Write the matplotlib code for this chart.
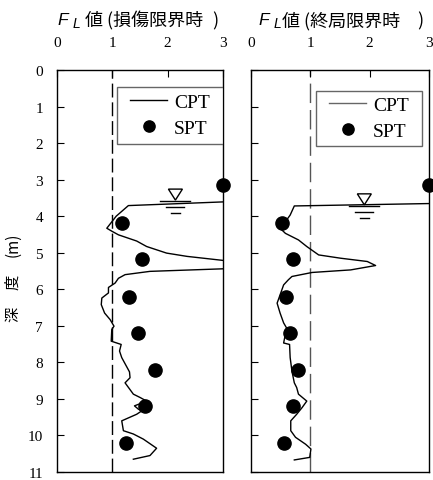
import matplotlib
matplotlib.use("Agg")
import matplotlib.pyplot as plt
import matplotlib.transforms as mtransforms
from matplotlib.patches import Rectangle

plt.rcParams['font.family'] = ['Liberation Serif', 'DejaVu Serif']
CJK = ['Noto Sans CJK JP', 'DejaVu Sans']

# SPT points (same depths for both panels)
spt_depth = [3.15, 4.18, 5.18, 6.2, 7.2, 8.2, 9.2, 10.2]
spt_damage = [3.0, 1.18, 1.54, 1.30, 1.46, 1.77, 1.59, 1.25]
spt_ultimate = [3.0, 0.52, 0.70, 0.59, 0.66, 0.80, 0.71, 0.56]

# CPT profile, damage limit
cpt_damage_fl = [3.5, 1.29, 1.07, 0.90, 0.99, 1.11, 1.44, 1.62, 1.98, 2.35, 3.0,
                 3.6, 3.0, 1.68, 1.23, 1.11, 1.05, 0.93, 0.93, 0.81, 0.80, 0.86,
                 0.96, 1.03, 0.99, 0.98, 1.16, 1.13, 1.17, 1.31, 1.32, 1.23, 1.38,
                 1.50, 1.62, 1.40, 1.47, 1.53, 1.44, 1.17, 1.20, 1.38, 1.56, 1.80,
                 1.68, 1.38]
cpt_damage_z = [3.58, 3.71, 4.0, 4.33, 4.41, 4.51, 4.68, 4.83, 5.01, 5.10, 5.21,
                5.32, 5.44, 5.51, 5.60, 5.70, 5.83, 5.95, 6.10, 6.24, 6.42, 6.65,
                6.83, 7.01, 7.10, 7.42, 7.51, 7.69, 7.87, 8.26, 8.42, 8.56, 8.87,
                8.96, 9.06, 9.19, 9.28, 9.33, 9.42, 9.60, 9.87, 9.96, 10.10, 10.35,
                10.55, 10.65]

# CPT profile, ultimate limit
cpt_ult_fl = [3.5, 0.73, 0.66, 0.58, 0.49, 0.58, 0.80, 0.94, 1.14, 1.51, 1.96,
              2.10, 1.68, 1.03, 0.69, 0.63, 0.55, 0.46, 0.44, 0.49, 0.55, 0.60,
              0.55, 0.65, 0.66, 0.69, 0.73, 0.77, 0.80, 0.94, 0.86, 0.77, 0.67,
              0.67, 0.75, 0.92, 1.01, 0.99, 0.73]
cpt_ult_z = [3.64, 3.72, 3.97, 4.15, 4.33, 4.47, 4.65, 4.83, 5.06, 5.15, 5.24,
             5.35, 5.47, 5.54, 5.65, 5.74, 5.88, 6.29, 6.38, 6.65, 6.92, 7.06,
             7.47, 7.51, 7.87, 8.24, 8.56, 8.69, 8.87, 9.06, 9.24, 9.42, 9.60,
             9.87, 10.05, 10.24, 10.37, 10.60, 10.67]

title_words = ['値 (損傷限界時', '値 (終局限界時']
water = [(2.14, 3.56), (1.91, 3.69)]

W, H = 433, 481
fig = plt.figure(figsize=(W/100, H/100), dpi=100)
ax1 = fig.add_axes([57/W, 1-473/H, 166/W, 402/H])
ax2 = fig.add_axes([251/W, 1-473/H, 178/W, 402/H])


def ftext(x, y, s, **kw):
    # place text by pixel position measured from the top-left corner
    fig.text(x/W, 1-y/H, s, **kw)


def water_mark(ax, x, z):
    # groundwater symbol drawn in inches around the apex point
    tr = fig.dpi_scale_trans + mtransforms.ScaledTranslation(x, z, ax.transData)
    p = 1/100
    ax.fill([-7*p, 7*p, 0], [11*p, 11*p, 0], facecolor='white', edgecolor='black',
            lw=1.0, transform=tr, clip_on=False, zorder=4)
    for dy, hw in [(-1, 15), (-7, 9), (-13, 4.5)]:
        ax.plot([-hw*p, hw*p], [dy*p, dy*p], color='black', lw=1.0,
                transform=tr, clip_on=False, zorder=4)


panels = [
    (ax1, cpt_damage_fl, cpt_damage_z, spt_damage, 'black', (10, 3.5),
     (0.361, 0.817, 0.639, 0.141), 'black'),
    (ax2, cpt_ult_fl, cpt_ult_z, spt_ultimate, '#555555', (14, 5),
     (0.365, 0.812, 0.596, 0.136), '#666666'),
]

for i, (ax, fl, z, spt, dcol, dashes, box, hcol) in enumerate(panels):
    ax.axvline(1.0, color=dcol, lw=1.0, dashes=dashes, zorder=1)
    ax.plot(fl, z, color='black', lw=1.0, label='CPT', zorder=2)
    ax.plot(spt, spt_depth, 'o', color='black', ms=9.5, label='SPT',
            clip_on=False, zorder=5)
    ax.set_xlim(0, 3)
    ax.set_ylim(11, 0)
    ax.xaxis.tick_top()
    ax.set_xticks([0, 1, 2, 3])
    ax.set_yticks(range(12))
    ax.tick_params(axis='x', direction='in', length=5, pad=15, labelsize=11,
                   top=True, bottom=False)
    ax.tick_params(axis='y', direction='in', length=5, pad=10, labelsize=11)
    for s in ax.spines.values():
        s.set_linewidth(1.0)
    # legend box drawn by hand (wide side padding)
    ax.add_patch(Rectangle(box[:2], box[2], box[3], transform=ax.transAxes,
                           facecolor='white', edgecolor='#666666', lw=1.0, zorder=6))
    leg = ax.legend(loc='center', frameon=False,
                    bbox_to_anchor=(box[0] + box[2]/2, box[1] + box[3]/2),
                    fontsize=14, handlelength=1.9, handletextpad=0.35,
                    borderpad=0, labelspacing=0.45, markerscale=0.85)
    leg.get_lines()[0].set_color(hcol)
    leg.set_zorder(7)
    water_mark(ax, *water[i])

# titles: F_L set apart so the subscript matches the original look
for x0, xw, xp, word in [(57, 85, 212, title_words[0]), (258, 282, 417, title_words[1])]:
    ftext(x0, 25, 'F', family='Liberation Sans', style='italic', fontsize=12.5)
    ftext(x0 + 16, 28, 'L', family='Liberation Sans', style='italic', fontsize=10)
    ftext(xw, 26, word, family=CJK, fontsize=13)
    ftext(xp, 26, ')', family=CJK, fontsize=13)

ax2.set_yticklabels([])

# depth label, characters spread along the axis
for s, yc in [('深', 314), ('度', 282), ('(m)', 245)]:
    ftext(13, yc, s, family=CJK, fontsize=11, rotation=90, ha='center', va='center')

fig.savefig('out.png', dpi=100)
